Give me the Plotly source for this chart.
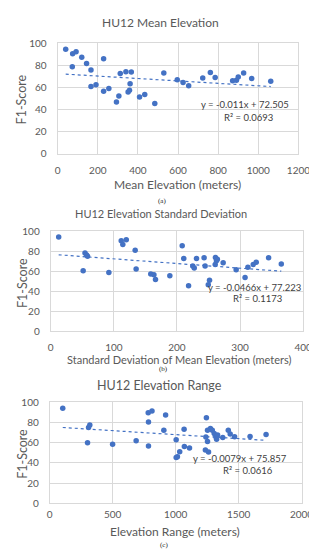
import plotly.graph_objects as go

# ---------------- data ----------------
mean_elev = [40, 74.5, 91.7, 72.8, 120, 144, 166, 166, 191, 229, 229, 255, 293, 305, 312, 340, 367, 361,
             358, 351, 408, 434, 484, 529, 596, 625, 653, 723, 761, 785, 872, 891, 900, 927, 967, 1062]
f1_a = [94.7, 90.5, 92.3, 78.8, 87.3, 81.7, 75.8, 60.8, 62.5, 86, 56.6, 59, 46.9, 52.2, 72.6, 74.3, 74, 63.4,
        57.5, 55.8, 51.3, 53.7, 45.4, 73.2, 67, 64.5, 61.5, 68.5, 73.5, 69, 66, 66.5, 69.5, 73, 68, 65.5]

std_elev = [12.6, 51.4, 54.3, 56.8, 58.4, 92.1, 111.7, 114.2, 119.7, 133.8, 135.3, 158.5, 163.5, 166, 188.7,
            208.3, 210.8, 218.4, 225, 227.4, 231, 243, 244.6, 249.6, 251.6, 261, 262.6, 260.6, 264, 273.2,
            293.8, 307.9, 312.4, 320.9, 325.6, 345.2, 365.3]
f1_b = [94.5, 60.6, 78.5, 76.5, 75.2, 59, 90.6, 87, 91.8, 81.1, 62.5, 57.3, 56.7, 51.8, 55.7,
        85.7, 73, 45.6, 65.5, 63.5, 73, 73.6, 65.5, 46.6, 51.1, 74, 70.7, 66.8, 72.3, 68.7,
        61.6, 53.8, 64.2, 66.8, 69.2, 73.8, 67.5]

elev_range = [103, 300, 308, 318, 499, 686, 782, 784, 784, 812, 906, 920, 1004, 1004, 1014, 1032, 1067, 1069,
              1110, 1236, 1240, 1244, 1253, 1253, 1261, 1276, 1291, 1306, 1319, 1325, 1333, 1374, 1418, 1433,
              1468, 1591, 1718]
f1_c = [94, 60, 75, 77.5, 58.5, 62, 89.7, 80.6, 56.8, 91.3, 72.3, 87.4, 62.9, 45.2, 46, 51, 73.2, 56.1,
        54.8, 52.8, 65.5, 84.8, 72.3, 61.2, 50.8, 74, 72.3, 69, 65.8, 63.5, 67.7, 65.2, 72.3, 68.7,
        65.8, 66, 68]

titles = ["HU12 Mean Elevation", "HU12 Elevation Standard Deviation", "HU12 Elevation Range"]
x_titles = ["Mean Elevation (meters)", "Standard Deviation of Mean Elevation (meters)", "Elevation Range (meters)"]
y_title = "F1-Score"
captions = ["(a)", "(b)", "(c)"]
slopes = [-0.011, -0.0466, -0.0079]
intercepts = [72.505, 77.223, 75.857]
equations = ["y = -0.011x + 72.505", "y = -0.0466x + 77.223", "y = -0.0079x + 75.857"]
r2_texts = ["R² = 0.0693", "R² = 0.1173", "R² = 0.0616"]
x_ranges = [[0, 1200], [0, 400], [0, 2000]]
x_dticks = [200, 100, 500]

xs = [mean_elev, std_elev, elev_range]
ys = [f1_a, f1_b, f1_c]

# ---------------- layout helpers ----------------
W, H = 317, 550
def px(x):
    return x / W
def py(y):
    return 1 - y / H

# plot areas in pixels: (left, right, top, bottom)
areas = [(49, 301.7, 29, 142), (41.7, 306.7, 221.7, 324), (40.7, 305, 396.7, 500)]
title_y = [7.5, 203.5, 379]
title_x = [157, 157, 156]
title_sizes = [12, 11, 12.5]
xt_pos = [(175, 173.5), (176.7, 352.7), (172.5, 528.5)]
xt_sizes = [12, 11, 12]
yt_pos = [(12, 86), (12, 274), (12, 449)]
cap_pos = [(159, 190.5), (160, 362.5), (161, 543)]
eq_pos = [(294, 92), (307, 279), (292, 454)]
r2_pos = [(277, 105), (287, 290.5), (277, 467)]
xtick_gap = [7, 7, 2]

TXT = "#595959"
BLUE = "#4472C4"
GRID = "#d9d9d9"
FONT = "Lato"

fig = go.Figure()
annotations = []

for i in range(3):
    xa = "x" if i == 0 else f"x{i+1}"
    ya = "y" if i == 0 else f"y{i+1}"
    fig.add_trace(go.Scatter(
        x=xs[i], y=ys[i], mode="markers", xaxis=xa, yaxis=ya,
        marker=dict(color=BLUE, size=5.5), showlegend=False, hoverinfo="x+y"))
    x0, x1 = min(xs[i]), max(xs[i])
    fig.add_trace(go.Scatter(
        x=[x0, x1], y=[slopes[i] * x0 + intercepts[i], slopes[i] * x1 + intercepts[i]],
        mode="lines", xaxis=xa, yaxis=ya,
        line=dict(color=BLUE, width=1.2, dash="dot"), showlegend=False, hoverinfo="skip"))

    l, r, t, b = areas[i]
    axis_common = dict(showgrid=True, gridcolor=GRID, gridwidth=1, zeroline=False,
                       showline=True, linecolor=GRID, mirror=True, ticks="",
                       tickfont=dict(family=FONT, size=10, color=TXT), fixedrange=True)
    xkey = "xaxis" if i == 0 else f"xaxis{i+1}"
    ykey = "yaxis" if i == 0 else f"yaxis{i+1}"
    fig.update_layout(**{
        xkey: dict(domain=[px(l), px(r)], range=x_ranges[i], dtick=x_dticks[i], tick0=0,
                   anchor=ya, ticklabelstandoff=xtick_gap[i], **axis_common),
        ykey: dict(domain=[py(b), py(t)], range=[0, 100], dtick=20, tick0=0,
                   anchor=xa, ticklabelstandoff=8, **axis_common),
    })

    annotations.append(dict(text=titles[i], x=px(title_x[i]), y=py(title_y[i]), xref="paper", yref="paper",
                            showarrow=False, xanchor="center", yanchor="middle",
                            font=dict(family=FONT, size=title_sizes[i], color=TXT)))
    annotations.append(dict(text=x_titles[i], x=px(xt_pos[i][0]), y=py(xt_pos[i][1]), xref="paper", yref="paper",
                            showarrow=False, xanchor="center", yanchor="middle",
                            font=dict(family=FONT, size=xt_sizes[i], color=TXT)))
    annotations.append(dict(text=y_title, x=px(yt_pos[i][0]), y=py(yt_pos[i][1]), xref="paper", yref="paper",
                            showarrow=False, xanchor="center", yanchor="middle", textangle=-90,
                            font=dict(family=FONT, size=12.5, color=TXT)))
    annotations.append(dict(text=captions[i], x=px(cap_pos[i][0]), y=py(cap_pos[i][1]), xref="paper", yref="paper",
                            showarrow=False, xanchor="center", yanchor="middle",
                            font=dict(family="Liberation Serif", size=7, color="#222222")))
    annotations.append(dict(text=equations[i], x=px(eq_pos[i][0]), y=py(eq_pos[i][1]), xref="paper", yref="paper",
                            showarrow=False, xanchor="right", yanchor="middle",
                            font=dict(family=FONT, size=9.5, color="#404040")))
    annotations.append(dict(text=r2_texts[i], x=px(r2_pos[i][0]), y=py(r2_pos[i][1]), xref="paper", yref="paper",
                            showarrow=False, xanchor="right", yanchor="middle",
                            font=dict(family=FONT, size=9.5, color="#404040")))

fig.update_layout(
    width=W, height=H, margin=dict(l=0, r=0, t=0, b=0),
    paper_bgcolor="white", plot_bgcolor="white",
    annotations=annotations, showlegend=False,
)

fig.write_html("out.html", config={"displayModeBar": False})
